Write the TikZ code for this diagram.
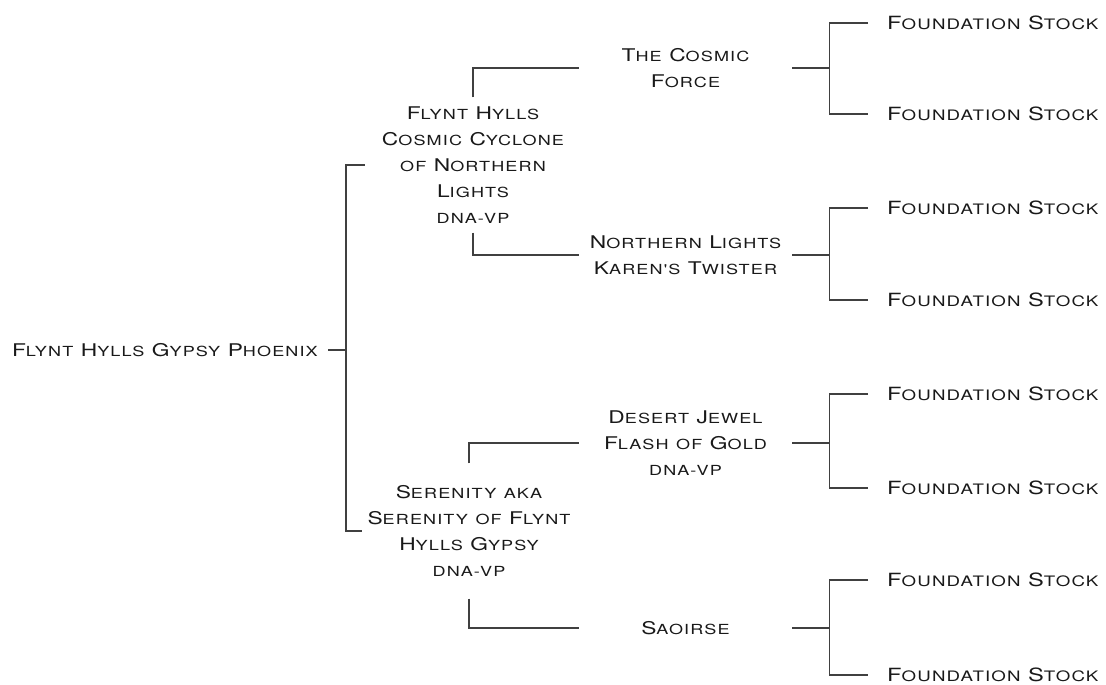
\documentclass[tikz,border=0pt]{standalone}
\usepackage{fontspec}
\newfontfamily\pedfont{TeX Gyre Heros}[FakeStretch=1.3, LetterSpace=8]
\usetikzlibrary{positioning}

% sizes of the big and small capitals
\newcommand\pedbig{17.5}
\newcommand\pedsmall{13.9}

% copperplate-like names: capital first letters big, the rest small capitals
\ExplSyntaxOn
\seq_new:N \l_ped_words_seq
\tl_new:N \l_ped_head_tl
\cs_new_protected:Npn \ped_word:n #1
  {
    \tl_set:Nx \l_ped_head_tl { \tl_head:n {#1} }
    \str_if_eq:eeTF { \l_ped_head_tl } { \text_uppercase:n { \l_ped_head_tl } }
      { { \fontsize{\pedbig}{26}\selectfont \l_ped_head_tl }
        { \fontsize{\pedsmall}{26}\selectfont \text_uppercase:n { \tl_tail:n {#1} } } }
      { { \fontsize{\pedsmall}{26}\selectfont \text_uppercase:n {#1} } }
  }
\NewDocumentCommand \pedname { m }
  {
    \seq_set_split:Nnn \l_ped_words_seq { ~ } {#1}
    \seq_map_indexed_inline:Nn \l_ped_words_seq
      { \int_compare:nNnT {##1} > {1} { \c_space_tl } \ped_word:n {##2} }
  }
\ExplSyntaxOff

\tikzset{
  pedline/.style={line width=1.3pt, draw=black!75},
  horse/.style={align=center, font=\pedfont\fontsize{17}{26}\selectfont, text=black!90},
  parent/.style={horse, minimum width=216pt, inner xsep=0pt, inner ysep=9pt},
  grand/.style={horse, minimum width=213pt, inner xsep=0pt},
  leaf/.style={horse, anchor=west, inner xsep=19pt,
    font=\pedfont\fontsize{17}{26}\selectfont\renewcommand\pedbig{18.2}\renewcommand\pedsmall{14.4}}
}

\begin{document}
\begin{tikzpicture}[x=1pt, y=-1pt]

    \useasboundingbox (0,0) rectangle (1106,685);

    % Horses
    \node[horse, anchor=east, inner xsep=10pt] (root) at (328,350) {\pedname{Flynt Hylls Gypsy Phoenix}};
    \node[parent] (sire) at (473,165) {\pedname{Flynt Hylls}\\\pedname{Cosmic Cyclone}\\\pedname{of Northern}\\\pedname{Lights}\\\pedname{dna-vp}};
    \node[parent, minimum width=214pt, inner ysep=22pt] (dam) at (469,531) {\pedname{Serenity aka}\\\pedname{Serenity of Flynt}\\\pedname{Hylls Gypsy}\\\pedname{dna-vp}};
    \node[grand] (ss) at (685.5,68) {\pedname{The Cosmic}\\\pedname{Force}};
    \node[grand] (sd) at (685.5,255) {\pedname{Northern Lights}\\\pedname{Karen's Twister}};
    \node[grand] (ds) at (685.5,443) {\pedname{Desert Jewel}\\\pedname{Flash of Gold}\\\pedname{dna-vp}};
    \node[grand] (dd) at (685.5,628) {\pedname{Saoirse}};
    \foreach \y [count=\i] in {23,114,208,300,394,488,580,675}
        \node[leaf] (f\i) at (868,\y) {\pedname{Foundation Stock}};

    % Brackets
    \draw[pedline] (root.east) -- +(18,0) coordinate (rj);
    \draw[pedline] (sire.west) -| (rj) |- (dam.west);
    \draw[pedline] (sire.north) |- (ss.west);
    \draw[pedline] (sire.south) |- (sd.west);
    \draw[pedline] (dam.north) |- (ds.west);
    \draw[pedline] (dam.south) |- (dd.west);
    \foreach \m/\a/\b in {ss/f1/f2, sd/f3/f4, ds/f5/f6, dd/f7/f8} {
        \draw[pedline] (\m.east) -- +(37,0) coordinate (gj);
        \draw[pedline] (\a.west) -| (gj) |- (\b.west);
    }
\end{tikzpicture}
\end{document}
